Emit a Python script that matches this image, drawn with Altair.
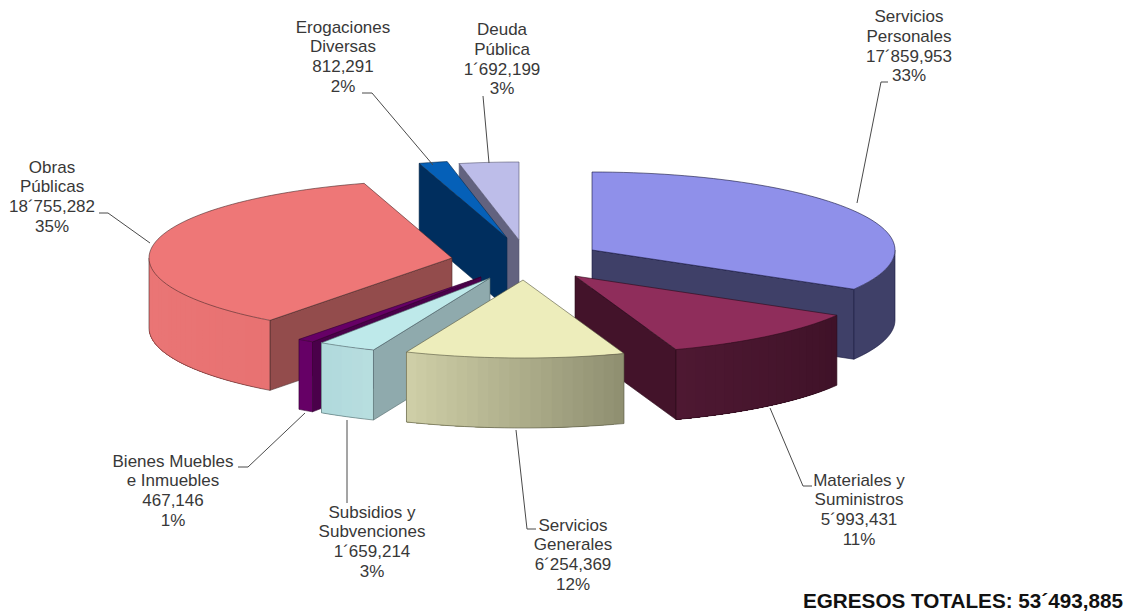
import math
import altair as alt

names = ["Servicios\nPersonales", "Materiales y\nSuministros", "Servicios\nGenerales",
         "Subsidios y\nSubvenciones", "Bienes Muebles\ne Inmuebles", "Obras\nPúblicas",
         "Erogaciones\nDiversas", "Deuda\nPública"]
values = [17859953, 5993431, 6254369, 1659214, 467146, 18755282, 812291, 1692199]
value_text = ["17´859,953", "5´993,431", "6´254,369", "1´659,214", "467,146", "18´755,282", "812,291", "1´692,199"]
pct_text = ["33%", "11%", "12%", "3%", "1%", "35%", "2%", "3%"]

top_col = ["#8F90EA", "#8F2D5B", "#EDEDBB", "#BEE9EA", "#660066", "#EE7777", "#0560B8", "#BDBDE9"]
cut_col = ["#3F4068", "#43132A", "#8F8F72", "#8FAAAD", "#4A004A", "#934C4C", "#002E5E", "#62627F"]
wall_l = ["#3F4068", "#4E1832", "#D0D0A8", "#B0D9DC", "#660066", "#EA7676", "#002E5E", "#62627F"]
wall_r = ["#3F4068", "#3F1228", "#8E8E70", "#B8DEDF", "#660066", "#E87272", "#002E5E", "#62627F"]
edge_col = ["#14143C", "#2A0A1A", "#55553F", "#4F6668", "#330033", "#4A2A2A", "#0A2A4A", "#555570"]

apex_x = [592, 575, 523, 490, 481, 452, 507, 519]
apex_y = [250, 276, 280, 278, 277, 258, 238, 240]
draw_order = [0, 7, 6, 5, 4, 3, 1, 2]
RX, RY, DEPTH = 303, 78, 70

label_x = [909, 859, 573, 372, 173, 52, 343, 502]
label_y = [9, 472.5, 517.5, 504.5, 453.5, 159.6, 19.6, 22]

total = sum(values)
cum = [0]
for v in values:
    cum.append(cum[-1] + v)
ang0 = [360 * c / total for c in cum[:-1]]
ang1 = [360 * c / total for c in cum[1:]]


def pt(i, a, drop=0):
    r = math.radians(a)
    return [apex_x[i] + RX * math.sin(r), apex_y[i] - RY * math.cos(r) + drop]


def arc_pts(i, a, b, drop=0):
    n = max(2, int(abs(b - a) / 2) + 1)
    return [pt(i, a + (b - a) * k / n, drop) for k in range(n + 1)]


def hexmix(c1, c2, t):
    p = [int(c1[j:j + 2], 16) for j in (1, 3, 5)]
    q = [int(c2[j:j + 2], 16) for j in (1, 3, 5)]
    return "#%02x%02x%02x" % tuple(round(a + (b - a) * t) for a, b in zip(p, q))


def poly(coords, fill, stroke, sw):
    ring = coords + [coords[0]]
    return {"type": "Feature", "geometry": {"type": "Polygon", "coordinates": [ring]},
            "properties": {"fill": fill, "stroke": stroke, "sw": sw}}


def line(coords, stroke, sw):
    return {"type": "Feature", "geometry": {"type": "LineString", "coordinates": coords},
            "properties": {"fill": "transparent", "stroke": stroke, "sw": sw}}


feats = []
for i in draw_order:
    a0, a1 = ang0[i], ang1[i]
    ap = [apex_x[i], apex_y[i]]
    apb = [apex_x[i], apex_y[i] + DEPTH]
    # cut faces
    if a1 < 180:
        feats.append(poly([ap, pt(i, a1), pt(i, a1, DEPTH), apb], cut_col[i], edge_col[i], 0.6))
    if a0 > 180:
        feats.append(poly([ap, pt(i, a0), pt(i, a0, DEPTH), apb], cut_col[i], edge_col[i], 0.6))
    # outer wall: progressively narrower overlapping bands, so no seams show
    w0, w1 = max(a0, 90), min(a1, 270)
    if w1 > w0:
        n = 1 if wall_l[i] == wall_r[i] else max(2, int((w1 - w0) / 2))
        for k in range(n):
            s = w0 + (w1 - w0) * k / n
            t = 1 - (k + 0.5) / n
            col = hexmix(wall_l[i], wall_r[i], t)
            band = arc_pts(i, s, w1) + arc_pts(i, w1, s, DEPTH)
            feats.append(poly(band, col, "transparent", 0))
        feats.append(line(arc_pts(i, w0, w1, DEPTH), edge_col[i], 0.6))
        feats.append(line([pt(i, w0), pt(i, w0, DEPTH)], edge_col[i], 0.6))
        feats.append(line([pt(i, w1), pt(i, w1, DEPTH)], edge_col[i], 0.6))
    # top face
    feats.append(poly([ap] + arc_pts(i, a0, a1), top_col[i], edge_col[i], 0.6))

leaders = [
    [[888, 82], [881, 82], [857, 203]],
    [[770, 408], [803, 486], [812, 486]],
    [[516, 430], [527, 529], [536, 529]],
    [[347, 420], [347, 503]],
    [[305, 413], [248, 467], [238, 467]],
    [[150, 243], [108, 213], [99, 213]],
    [[433, 165], [372, 93], [362, 93]],
    [[489, 163], [483, 96]],
]
for l in leaders:
    feats.append(line(l, "#4A4A4A", 1))

shapes = alt.Chart(alt.Data(values=feats)).mark_geoshape().encode(
    fill=alt.Fill("properties.fill:N", scale=None),
    stroke=alt.Stroke("properties.stroke:N", scale=None),
    strokeWidth=alt.StrokeWidth("properties.sw:Q", scale=None),
).project(type="identity", scale=1, translate=[-8, -8])

rows = [{"t": f"{n}\n{v}\n{p}", "x": x, "y": y}
        for n, v, p, x, y in zip(names, value_text, pct_text, label_x, label_y)]
xs = alt.Scale(domain=[8, 1126], range=[0, 1118])
ys = alt.Scale(domain=[8, 614], range=[0, 606])
labels = alt.Chart(alt.Data(values=rows)).mark_text(
    font="Liberation Sans", fontSize=17, lineBreak="\n", lineHeight=19.8,
    baseline="top", align="center", color="#383838",
).encode(x=alt.X("x:Q", scale=xs, axis=None), y=alt.Y("y:Q", scale=ys, axis=None), text="t:N")

title_row = [{"t": "EGRESOS TOTALES: 53´493,885", "x": 1123, "y": 592.4}]
total_txt = alt.Chart(alt.Data(values=title_row)).mark_text(
    font="Liberation Sans", fontSize=20.7, fontWeight="bold", baseline="top", align="right", color="#111111",
).encode(x=alt.X("x:Q", scale=xs, axis=None), y=alt.Y("y:Q", scale=ys, axis=None), text="t:N")

chart = (shapes + labels + total_txt).resolve_scale(x="shared", y="shared").properties(
    width=1118, height=606, padding=0, autosize=alt.AutoSizeParams(type="none"), background="white"
).configure_view(stroke=None)

chart.save("out.html", embed_options={"renderer": "svg", "actions": False})
